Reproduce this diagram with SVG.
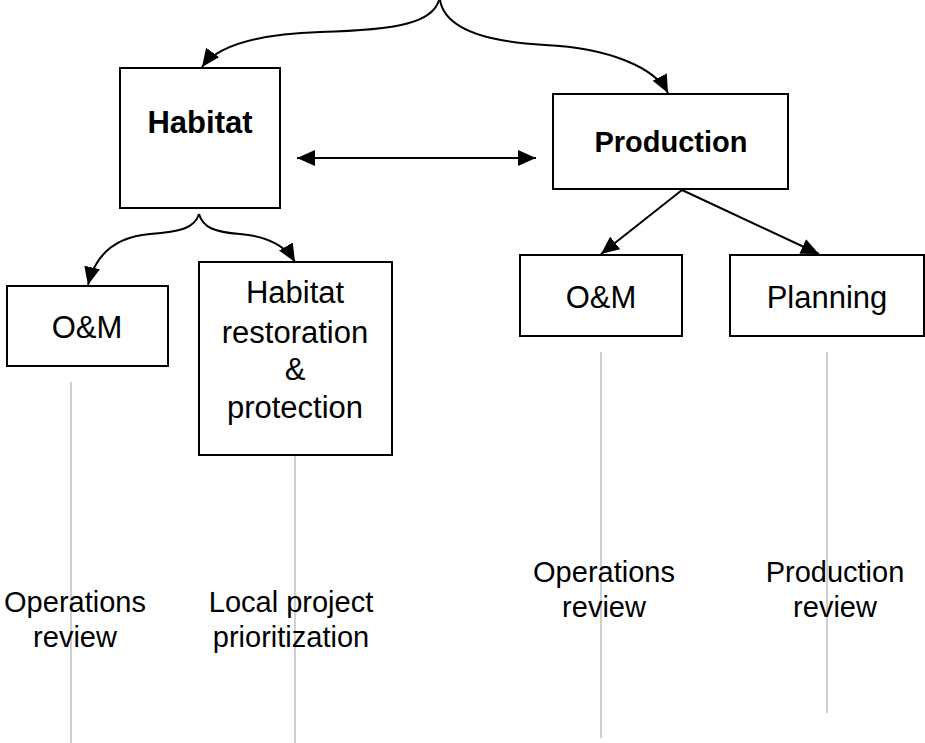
<svg xmlns="http://www.w3.org/2000/svg" width="925" height="743" viewBox="0 0 925 743">
<style>
.box{fill:#fff;stroke:#000;stroke-width:2}
.t{font-family:"Liberation Sans",Arial,sans-serif;font-size:31px;fill:#000;text-anchor:middle}
.b{font-family:"Liberation Sans",Arial,sans-serif;font-size:29px;font-weight:bold;fill:#000;text-anchor:middle}
.bl{font-size:31px}
.l{font-family:"Liberation Sans",Arial,sans-serif;font-size:29px;fill:#000;text-anchor:middle}
.c{fill:none;stroke:#000;stroke-width:2}
.g{fill:none;stroke:#c0c0c0;stroke-width:1.5}
</style>
<defs>
<marker id="ah" viewBox="0 0 18 16" refX="18" refY="8" markerWidth="18" markerHeight="16" markerUnits="userSpaceOnUse" orient="auto-start-reverse">
<path d="M0,0 L18,8 L0,16 z" fill="#000"/>
</marker>
</defs>
<g id="guides">
<line class="g" x1="71" y1="382" x2="71" y2="743"/>
<line class="g" x1="295" y1="455" x2="295" y2="743"/>
<line class="g" x1="601" y1="352" x2="601" y2="738"/>
<line class="g" x1="827" y1="352" x2="827" y2="713"/>
</g>
<g id="connectors">
<path class="c" d="M439,0 C433,22 400,30 320,32 C260,34 218,45 202,67" marker-end="url(#ah)"/>
<path class="c" d="M440,0 C445,30 490,42 545,45 C610,48 655,68 668,93" marker-end="url(#ah)"/>
<line class="c" x1="297" y1="158" x2="536" y2="158" marker-start="url(#ah)" marker-end="url(#ah)"/>
<path class="c" d="M199,214 C195,228 180,232 150,234 C115,237 95,255 88,285" marker-end="url(#ah)"/>
<path class="c" d="M199,214 C203,228 215,232 240,234 C265,236 285,245 295,262" marker-end="url(#ah)"/>
<line class="c" x1="682" y1="190" x2="601" y2="254" marker-end="url(#ah)"/>
<line class="c" x1="682" y1="190" x2="819" y2="254" marker-end="url(#ah)"/>
</g>
<g id="habitat">
<rect class="box" x="120" y="68" width="160" height="140"/>
<text class="b bl" x="200" y="133">Habitat</text>
</g>
<g id="production">
<rect class="box" x="553" y="94" width="235" height="95"/>
<text class="b" x="671" y="152">Production</text>
</g>
<g id="habitat-om">
<rect class="box" x="7" y="286" width="161" height="80"/>
<text class="t" x="87" y="338">O&amp;M</text>
</g>
<g id="habitat-restoration">
<rect class="box" x="199" y="262" width="193" height="193"/>
<text class="t" x="295" y="303">Habitat</text>
<text class="t" x="295" y="343">restoration</text>
<text class="t" x="295" y="380">&amp;</text>
<text class="t" x="295" y="418">protection</text>
</g>
<g id="production-om">
<rect class="box" x="520" y="255" width="162" height="81"/>
<text class="t" x="601" y="308">O&amp;M</text>
</g>
<g id="planning">
<rect class="box" x="730" y="255" width="194" height="81"/>
<text class="t" x="827" y="308">Planning</text>
</g>
<g id="labels">
<text class="l" x="75" y="612">Operations</text>
<text class="l" x="75" y="647">review</text>
<text class="l" x="291" y="612">Local project</text>
<text class="l" x="291" y="647">prioritization</text>
<text class="l" x="604" y="582">Operations</text>
<text class="l" x="604" y="617">review</text>
<text class="l" x="835" y="582">Production</text>
<text class="l" x="835" y="617">review</text>
</g>
</svg>
